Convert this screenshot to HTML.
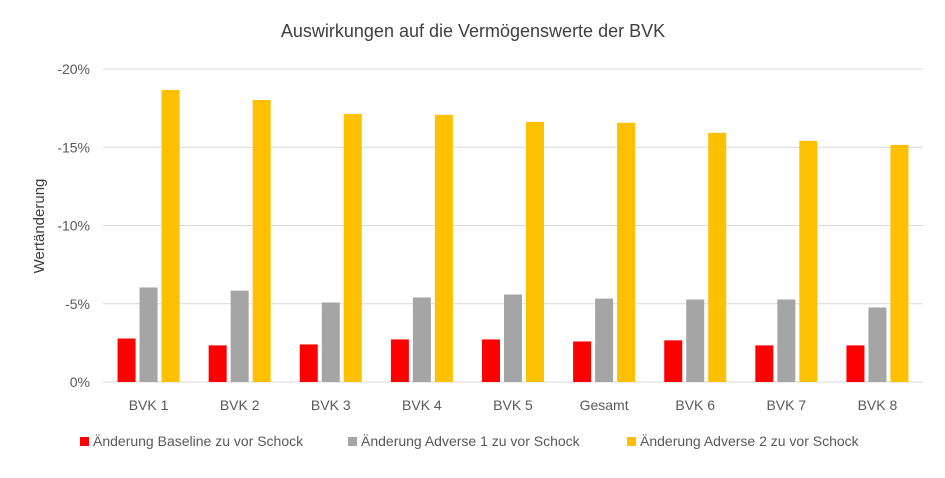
<!DOCTYPE html>
<html><head><meta charset="utf-8"><style>
body{margin:0;background:#fff;font-family:"Liberation Sans",sans-serif}
svg text{font-family:"Liberation Sans",sans-serif}
</style></head><body>
<svg id="c" width="945" height="473" viewBox="0 0 945 473">
<rect width="945" height="473" fill="#fff"/>
<text x="473" y="37" text-anchor="middle" font-size="18" fill="#404040">Auswirkungen auf die Vermögenswerte der BVK</text>
<text transform="translate(44,226) rotate(-90)" text-anchor="middle" font-size="15" fill="#404040">Wertänderung</text>
<g id="grid"></g><g id="bars"></g><g id="xl"></g><g id="legend"></g>
</svg>
<script>
const categories=["BVK 1","BVK 2","BVK 3","BVK 4","BVK 5","Gesamt","BVK 6","BVK 7","BVK 8"];
const baseline=[-2.78,-2.34,-2.40,-2.72,-2.72,-2.59,-2.66,-2.34,-2.34];
const adverse1=[-6.04,-5.84,-5.08,-5.40,-5.59,-5.33,-5.27,-5.27,-4.76];
const adverse2=[-18.66,-18.02,-17.13,-17.07,-16.62,-16.56,-15.92,-15.41,-15.15];
const ticks=[0,-5,-10,-15,-20];
const tickLabels=["0%","-5%","-10%","-15%","-20%"];
const seriesNames=["Änderung Baseline zu vor Schock","Änderung Adverse 1 zu vor Schock","Änderung Adverse 2 zu vor Schock"];
const colors=["#ff0000","#a5a5a5","#ffc000"];
const NS="http://www.w3.org/2000/svg";
const x0=103,x1=923,y0=382,yTop=69;
const y=v=>y0+(v/20)*(y0-yTop); // negative values go upward
const bw=(x1-x0)/categories.length;
function mk(t,a,p){const e=document.createElementNS(NS,t);for(const k in a)e.setAttribute(k,a[k]);p.appendChild(e);return e;}
const g=document.getElementById('grid');
ticks.forEach((t,i)=>{
 const l=mk('line',{x1:x0,x2:x1,y1:y(t),y2:y(t),stroke:'#d9d9d9','stroke-width':1},g);
 
 
 const tx=mk('text',{x:90,y:y(t)+5,'text-anchor':'end','font-size':14,fill:'#595959'},g);
 tx.textContent=tickLabels[i];
 
 
});
const b=document.getElementById('bars');const xl=document.getElementById('xl');
const series=[baseline,adverse1,adverse2];
const w=18,gap=4;
categories.forEach((c,i)=>{
 const cx=x0+bw*(i+0.5);
 series.forEach((s,j)=>{
  const bx=cx-(3*w+2*gap)/2+j*(w+gap);
  const r=mk('rect',{x:bx,y:y(s[i]),width:w,height:y0-y(s[i]),fill:colors[j]},b);
  
  
 });
 const t=mk('text',{x:cx,y:410,'text-anchor':'middle','font-size':14,fill:'#595959'},xl);
 t.textContent=c;
 
 
});
const lg=document.getElementById('legend');
const lx=[80,348,627];
seriesNames.forEach((n,j)=>{
 const r=mk('rect',{x:lx[j],y:437,width:9,height:9,fill:colors[j]},lg);
 
 
 const t=mk('text',{x:lx[j]+13,y:446,'font-size':14,fill:'#595959'},lg);
 t.textContent=n;
 
 
});
</script>
</body></html>
